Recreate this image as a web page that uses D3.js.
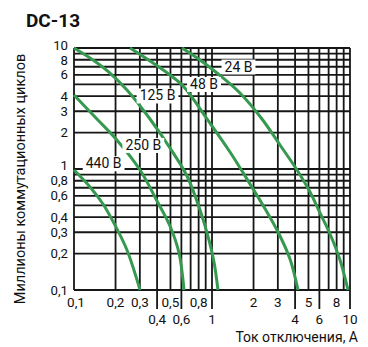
<!DOCTYPE html>
<html><head><meta charset="utf-8">
<script src="https://cdn.jsdelivr.net/npm/d3@7"></script>
<style>
body{margin:0;background:#fff}
svg{display:block}
text{font-family:Roboto,"DejaVu Sans",sans-serif;fill:#111}
</style>
</head><body>
<svg id="c" width="368" height="347"></svg>
<script>
// ---- data ----
const gridValues = [0.1,0.2,0.3,0.4,0.5,0.6,0.7,0.8,0.9,1,2,3,4,5,6,7,8,9,10];
const xTicksUpper = [0.1,0.2,0.3,0.5,0.8,2,3,5,8];
const xTicksLower = [0.4,0.6,1,4,6,10];
const yTicks = [10,8,6,4,3,2,1,0.8,0.6,0.4,0.3,0.2,0.1];
const fmt = v => String(v).replace(".", ",");

// current (A) vs millions of cycles
const series440 = [[0.1,0.98],[0.1306,0.71],[0.1622,0.514],[0.198,0.3445],[0.242,0.214],[0.301,0.1]];
const series250 = [[0.1,4.09],[0.1443,2.64],[0.2015,1.77],[0.301,0.981],[0.3995,0.544],[0.4962,0.338],[0.5767,0.2022],[0.6268,0.1]];
const series125 = [[0.1,10],[0.1373,7.96],[0.1823,6.21],[0.242,4.5],[0.3554,2.59],[0.4962,1.49],[0.6588,0.875],[0.8187,0.4584],[0.9512,0.2589],[1.034,0.1703],[1.105,0.1]];
const series48  = [[0.2545,10],[0.3554,7.81],[0.4962,5.98],[0.6268,4.76],[0.92,2.59],[1.35,1.382],[1.885,0.7517],[2.381,0.4853],[3.059,0.2903],[3.674,0.1804],[4.201,0.1]];
const series24  = [[0.6063,10],[0.8187,7.96],[1.087,6.21],[1.595,4.25],[2.303,2.59],[3.11,1.579],[4.13,0.981],[5.131,0.6455],[6.062,0.4329],[7.163,0.2903],[8.465,0.177],[9.672,0.1]];
const seriesList = [series440, series250, series125, series48, series24];
const seriesLabels = ["440 В","250 В","125 В","48 В","24 В"];
const labelAnchors = [[0.164,1.115],[0.318,1.58],[0.403,4.05],[0.875,5.04],[1.556,7.03]];

const title = "DC-13";
const yTitle = "Миллионы коммутационных циклов";
const xTitle = "Ток отключения, А";

// ---- drawing ----
const svg = d3.select("#c");
const x = d3.scaleLog().domain([0.1,10]).range([74,350]);
const y = d3.scaleLog().domain([0.1,10]).range([290,48]);
const ink = "#161616", green = "#35994f";

const g = svg.append("g");
g.selectAll("line.v").data(gridValues).join("line")
  .attr("x1", d=>x(d)).attr("x2", d=>x(d)).attr("y1", y(10)).attr("y2", y(0.1))
  .attr("stroke", ink).attr("stroke-width", 1.8);
g.selectAll("line.h").data(gridValues).join("line")
  .attr("y1", d=>y(d)).attr("y2", d=>y(d)).attr("x1", x(0.1)).attr("x2", x(10))
  .attr("stroke", ink).attr("stroke-width", 1.8);
g.selectAll("line.t").data(xTicksLower).join("line")
  .attr("x1", d=>x(d)).attr("x2", d=>x(d)).attr("y1", y(0.1)).attr("y2", y(0.1)+19)
  .attr("stroke", ink).attr("stroke-width", 1.8);

// label boxes
const lab = svg.append("g");
const labTexts = lab.selectAll("text").data(seriesLabels).join("text")
  .attr("x", (d,i)=>x(labelAnchors[i][0])).attr("y", (d,i)=>y(labelAnchors[i][1]))
  .attr("text-anchor","middle").attr("dominant-baseline","central")
  .attr("font-size",14).text(d=>d);
labTexts.each(function(){
  const b = this.getBBox();
  lab.insert("rect","text").attr("x", b.x-3).attr("y", b.y+1).attr("width", b.width+6).attr("height", b.height-1).attr("fill","#fff");
});

// curves
const line = d3.line().x(d=>x(d[0])).y(d=>y(d[1])).curve(d3.curveCatmullRom.alpha(0.5));
svg.append("g").selectAll("path").data(seriesList).join("path")
  .attr("d", line).attr("fill","none").attr("stroke", green).attr("stroke-width", 3);
lab.raise();
lab.selectAll("text").raise();

// axis labels
const yShift = v => v===10 ? -3 : (v===8 ? 1 : (v===1 ? -4 : 0));
svg.append("g").selectAll("text").data(yTicks).join("text")
  .attr("x", 68).attr("y", d=>y(d)+yShift(d)).attr("dominant-baseline","central")
  .attr("text-anchor","end").attr("font-size",13.2).text(fmt);
svg.append("g").selectAll("text").data(xTicksUpper).join("text")
  .attr("x", d=>x(d)+(d===0.1?2:0)).attr("y", 302).attr("dominant-baseline","central")
  .attr("text-anchor","middle").attr("font-size",13.5).text(fmt);
svg.append("g").selectAll("text").data(xTicksLower).join("text")
  .attr("x", d=>x(d)).attr("y", 319).attr("dominant-baseline","central")
  .attr("text-anchor","middle").attr("font-size",13.5).text(fmt);

svg.append("text").attr("x",26).attr("y",27).attr("font-size",19).attr("font-weight","bold").text(title);
svg.append("text").attr("transform","translate(25,179) rotate(-90)").attr("text-anchor","middle")
  .attr("font-size",14.5).text(yTitle);
svg.append("text").attr("x",358).attr("y",342).attr("text-anchor","end").attr("font-size",14).text(xTitle);
</script>
</body></html>
